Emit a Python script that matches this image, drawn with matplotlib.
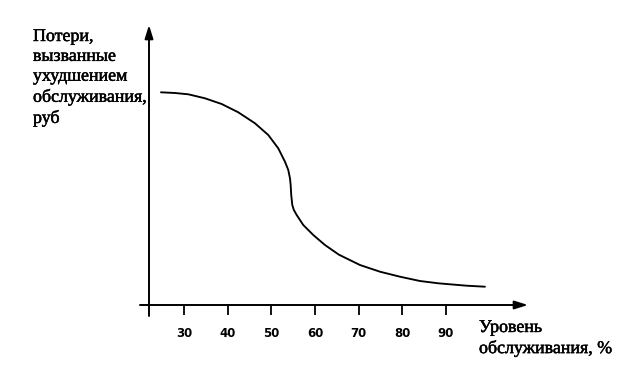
import matplotlib
matplotlib.use("Agg")
import matplotlib.pyplot as plt
import matplotlib.patheffects as pe
from matplotlib import font_manager

# Data (x = service level %, y = losses, arbitrary units)
service_level = [24.65, 27.87, 30.92, 34.75, 38.58, 42.39, 46.23, 49.28, 51.57,
                 53.11, 53.87, 54.26, 54.42, 54.55, 54.79, 55.15, 55.80, 57.31, 59.61,
                 62.29, 65.50, 70.33, 74.92, 79.51, 84.10, 88.30, 94.81, 99.01]
losses = [212.7, 212.0, 210.7, 206.7, 201.0, 192.7, 181.7, 170.0, 156.7,
          143.3, 135.0, 126.7, 120.0, 110.0, 100.0, 95.0, 90.0, 80.0, 70.0,
          60.0, 50.3, 40.0, 33.3, 28.3, 24.0, 21.7, 19.3, 18.3]
xtick_values = [30, 40, 50, 60, 70, 80, 90]
xtick_labels = ["30", "40", "50", "60", "70", "80", "90"]
ylabel_text = "Потери,\nвызванные\nухудшением\nобслуживания,\nруб"
xlabel_text = "Уровень\nобслуживания, %"

W, H = 630, 374
fig = plt.figure(figsize=(W / 100, H / 100), dpi=100)

# axes box: left spine at px 149, bottom at px 305, right at px 528, top at px 25
left, right, top, bottom = 149, 528, 25, 305
ax = fig.add_axes([left / W, (H - bottom) / H, (right - left) / W, (bottom - top) / H])
ax.set_xlim(21.9, 108.9)
ax.set_ylim(0, 280)

for s in ax.spines.values():
    s.set_visible(False)

# axes with arrows
ax.annotate("", xy=(1.0, 0), xytext=(-9 / 379, 0), xycoords="axes fraction",
            arrowprops=dict(arrowstyle="-|>,head_length=0.8,head_width=0.25",
                            lw=1.4, color="black", shrinkA=0, shrinkB=0))
ax.annotate("", xy=(0, 1.0), xytext=(0, -11 / 280), xycoords="axes fraction",
            arrowprops=dict(arrowstyle="-|>,head_length=0.8,head_width=0.25",
                            lw=1.4, color="black", shrinkA=0, shrinkB=0))

ax.plot(service_level, losses, color="black", lw=1.35,
        solid_capstyle="round", solid_joinstyle="round")

ax.set_xticks(xtick_values)
narrow = "Liberation Sans Narrow"
avail = {f.name for f in font_manager.fontManager.ttflist}
tick_family = narrow if narrow in avail else "DejaVu Sans"
ax.set_xticklabels(xtick_labels, fontfamily=tick_family, fontweight="bold", fontsize=8.5)
ax.tick_params(axis="x", direction="out", length=7.5, width=1.3, pad=8, color="black")
ax.set_yticks([])

serif = "Liberation Serif"
heavy = [pe.withStroke(linewidth=0.35, foreground="black")]
fig.text(33 / W, 1 - 28 / H, ylabel_text, ha="left", va="top", fontsize=12.9,
         family=serif, linespacing=1.22, path_effects=heavy)
fig.text(479 / W, 1 - 319 / H, xlabel_text, ha="left", va="top", fontsize=12.9,
         family=serif, linespacing=1.22, path_effects=heavy)

fig.savefig("out.png", dpi=100, facecolor="white")
